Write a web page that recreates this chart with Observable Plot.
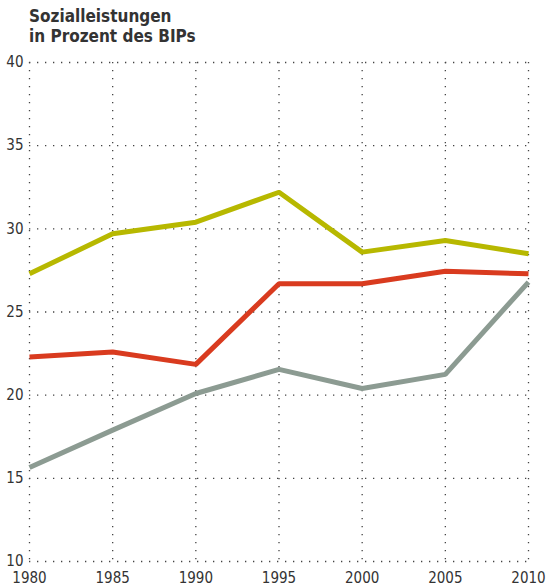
<!DOCTYPE html>
<html>
<head>
<meta charset="utf-8">
<script src="https://cdn.jsdelivr.net/npm/d3@7"></script>
<script src="https://cdn.jsdelivr.net/npm/@observablehq/plot@0.6"></script>
<style>
  html, body { margin: 0; padding: 0; background: #fff; }
  body { width: 548px; height: 588px; overflow: hidden; font-family: "DejaVu Sans Condensed", "Liberation Sans Narrow", sans-serif; }
  #title { position: absolute; left: 29px; top: 6px; font-size: 17px; font-weight: bold; line-height: 20px; color: #333; }
  #chart { position: absolute; left: 0; top: 50px; }
</style>
</head>
<body>
<div id="title">Sozialleistungen<br>in Prozent des BIPs</div>
<div id="chart"></div>
<script>
const years = [1980, 1985, 1990, 1995, 2000, 2005, 2010];
const seriesYellow = [27.3, 29.7, 30.4, 32.2, 28.6, 29.3, 28.5];
const seriesRed = [22.3, 22.6, 21.85, 26.7, 26.7, 27.45, 27.3];
const seriesGray = [15.65, 17.9, 20.1, 21.55, 20.4, 21.25, 26.8];
const yTicks = [10, 15, 20, 25, 30, 35, 40];
const seriesNames = ["gelb", "rot", "grau"];
const seriesColors = ["#b7b800", "#d93b1f", "#8c9b92"];

const data = [];
[seriesYellow, seriesRed, seriesGray].forEach((vals, i) => {
  vals.forEach((v, j) => data.push({ year: years[j], value: v, series: seriesNames[i] }));
});

const chart = Plot.plot({
  width: 548,
  height: 538,
  marginLeft: 29,
  marginRight: 20,
  marginTop: 12,
  marginBottom: 27,
  style: { fontFamily: '"DejaVu Sans Condensed", "Liberation Sans Narrow", sans-serif', fontSize: "15px", color: "#333", background: "#fff" },
  x: { domain: [1980, 2010], ticks: years, tickFormat: d => String(d), tickSize: 0, tickPadding: 11, label: null },
  y: { domain: [10, 40], ticks: yTicks, tickSize: 0, tickPadding: 6, label: null },
  color: { domain: seriesNames, range: seriesColors },
  marks: [
    Plot.ruleY(yTicks, { stroke: "#444", strokeWidth: 1.3, strokeDasharray: "1.3,6.7" }),
    Plot.ruleX(years, { stroke: "#444", strokeWidth: 1.3, strokeDasharray: "1.3,6.7" }),
    Plot.line(data, { x: "year", y: "value", z: "series", stroke: "series", strokeWidth: 5, strokeLinejoin: "miter", strokeLinecap: "butt" })
  ]
});
document.getElementById("chart").appendChild(chart);
</script>
</body>
</html>
